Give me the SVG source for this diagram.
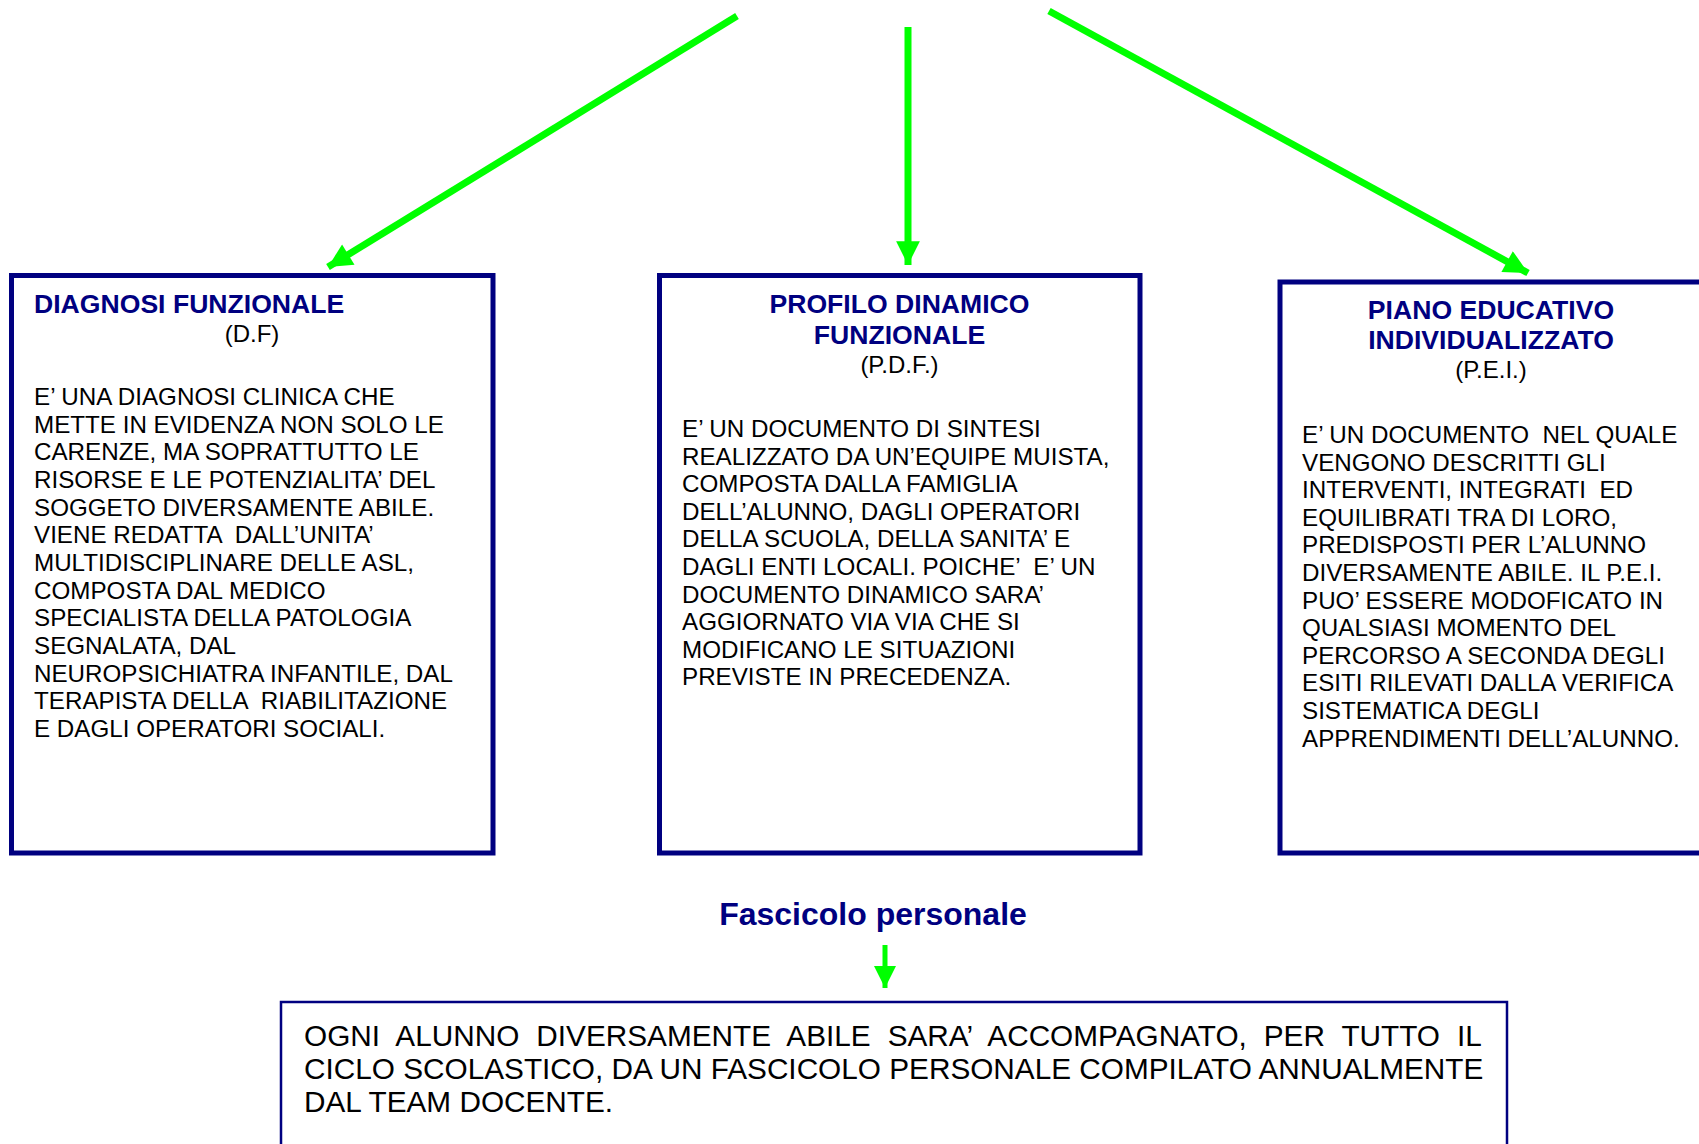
<svg xmlns="http://www.w3.org/2000/svg" width="1699" height="1144" viewBox="0 0 1699 1144">
<defs>
<style>
text{white-space:pre}
.box{fill:#ffffff;stroke:#000080;stroke-width:5}
.box2{fill:#ffffff;stroke:#000080;stroke-width:2.5}
.t{font-family:"Liberation Sans",Arial,sans-serif;font-size:26.6px;font-weight:bold;fill:#000080}
.s{font-family:"Liberation Sans",Arial,sans-serif;font-size:24px;fill:#000000}
.b{font-family:"Liberation Sans",Arial,sans-serif;font-size:24.2px;fill:#000000}
.f{font-family:"Liberation Sans",Arial,sans-serif;font-size:32px;font-weight:bold;fill:#000080}
.g{font-family:"Liberation Sans",Arial,sans-serif;font-size:29.75px;fill:#000000}
.arr{stroke:#00ff00;stroke-width:7;fill:none}
.arr2{stroke:#00ff00;stroke-width:5;fill:none}
</style>
<marker id="ah" viewBox="0 0 10 10" refX="10" refY="5" markerWidth="4" markerHeight="3.4" markerUnits="strokeWidth" orient="auto">
<path d="M0,0 L10,5 L0,10 z" fill="#00ff00"/>
</marker>
<marker id="ah2" viewBox="0 0 10 10" refX="10" refY="5" markerWidth="4.4" markerHeight="4.4" markerUnits="strokeWidth" orient="auto">
<path d="M0,0 L10,5 L0,10 z" fill="#00ff00"/>
</marker>
</defs>
<rect width="1699" height="1144" fill="#ffffff"/>

<g id="connectors">
<line class="arr" x1="737" y1="16" x2="328" y2="267" marker-end="url(#ah)"/>
<line class="arr" x1="908" y1="27" x2="908" y2="265" marker-end="url(#ah)"/>
<line class="arr" x1="1049" y1="11" x2="1528" y2="273" marker-end="url(#ah)"/>
<line class="arr2" x1="885" y1="945" x2="885" y2="988" marker-end="url(#ah2)"/>
</g>

<g id="node-df">
<rect class="box" x="11.5" y="275.5" width="481.5" height="577.5"/>
<text class="t" x="34" y="313">DIAGNOSI FUNZIONALE</text>
<text class="s" x="252" y="342" text-anchor="middle">(D.F)</text>
<text class="b" x="34" y="405">E’ UNA DIAGNOSI CLINICA CHE</text>
<text class="b" x="34" y="432.7">METTE IN EVIDENZA NON SOLO LE</text>
<text class="b" x="34" y="460.3">CARENZE, MA SOPRATTUTTO LE</text>
<text class="b" x="34" y="488">RISORSE E LE POTENZIALITA’ DEL</text>
<text class="b" x="34" y="515.7">SOGGETO DIVERSAMENTE ABILE.</text>
<text class="b" x="34" y="543.4">VIENE REDATTA  DALL’UNITA’</text>
<text class="b" x="34" y="571">MULTIDISCIPLINARE DELLE ASL,</text>
<text class="b" x="34" y="598.7">COMPOSTA DAL MEDICO</text>
<text class="b" x="34" y="626.4">SPECIALISTA DELLA PATOLOGIA</text>
<text class="b" x="34" y="654">SEGNALATA, DAL</text>
<text class="b" x="34" y="681.7">NEUROPSICHIATRA INFANTILE, DAL</text>
<text class="b" x="34" y="709.4">TERAPISTA DELLA  RIABILITAZIONE</text>
<text class="b" x="34" y="737">E DAGLI OPERATORI SOCIALI.</text>
</g>

<g id="node-pdf">
<rect class="box" x="659.5" y="275.5" width="480.5" height="577.5"/>
<text class="t" x="899.5" y="313" text-anchor="middle">PROFILO DINAMICO</text>
<text class="t" x="899.5" y="344" text-anchor="middle">FUNZIONALE</text>
<text class="s" x="899.5" y="373" text-anchor="middle">(P.D.F.)</text>
<text class="b" x="682" y="437">E’ UN DOCUMENTO DI SINTESI</text>
<text class="b" x="682" y="464.6">REALIZZATO DA UN’EQUIPE MUISTA,</text>
<text class="b" x="682" y="492.2">COMPOSTA DALLA FAMIGLIA</text>
<text class="b" x="682" y="519.8">DELL’ALUNNO, DAGLI OPERATORI</text>
<text class="b" x="682" y="547.4">DELLA SCUOLA, DELLA SANITA’ E</text>
<text class="b" x="682" y="575">DAGLI ENTI LOCALI. POICHE’  E’ UN</text>
<text class="b" x="682" y="602.6">DOCUMENTO DINAMICO SARA’</text>
<text class="b" x="682" y="630.2">AGGIORNATO VIA VIA CHE SI</text>
<text class="b" x="682" y="657.8">MODIFICANO LE SITUAZIONI</text>
<text class="b" x="682" y="685.4">PREVISTE IN PRECEDENZA.</text>
</g>

<g id="node-pei">
<rect class="box" x="1280" y="282" width="440" height="571"/>
<text class="t" x="1491" y="319" text-anchor="middle">PIANO EDUCATIVO</text>
<text class="t" x="1491" y="349" text-anchor="middle">INDIVIDUALIZZATO</text>
<text class="s" x="1491" y="378" text-anchor="middle">(P.E.I.)</text>
<text class="b" x="1302" y="443">E’ UN DOCUMENTO  NEL QUALE</text>
<text class="b" x="1302" y="470.6">VENGONO DESCRITTI GLI</text>
<text class="b" x="1302" y="498.2">INTERVENTI, INTEGRATI  ED</text>
<text class="b" x="1302" y="525.8">EQUILIBRATI TRA DI LORO,</text>
<text class="b" x="1302" y="553.4">PREDISPOSTI PER L’ALUNNO</text>
<text class="b" x="1302" y="581">DIVERSAMENTE ABILE. IL P.E.I.</text>
<text class="b" x="1302" y="608.6">PUO’ ESSERE MODOFICATO IN</text>
<text class="b" x="1302" y="636.2">QUALSIASI MOMENTO DEL</text>
<text class="b" x="1302" y="663.8">PERCORSO A SECONDA DEGLI</text>
<text class="b" x="1302" y="691.4">ESITI RILEVATI DALLA VERIFICA</text>
<text class="b" x="1302" y="719">SISTEMATICA DEGLI</text>
<text class="b" x="1302" y="746.6">APPRENDIMENTI DELL’ALUNNO.</text>
</g>

<g id="node-fascicolo-label">
<text class="f" x="873" y="925" text-anchor="middle">Fascicolo personale</text>
</g>

<g id="node-fascicolo">
<rect class="box2" x="281" y="1002" width="1226" height="160"/>
<text class="g" x="304" y="1046" word-spacing="8.7">OGNI ALUNNO DIVERSAMENTE ABILE SARA’ ACCOMPAGNATO, PER TUTTO IL</text>
<text class="g" x="304" y="1079">CICLO SCOLASTICO, DA UN FASCICOLO PERSONALE COMPILATO ANNUALMENTE</text>
<text class="g" x="304" y="1112">DAL TEAM DOCENTE.</text>
</g>
</svg>
